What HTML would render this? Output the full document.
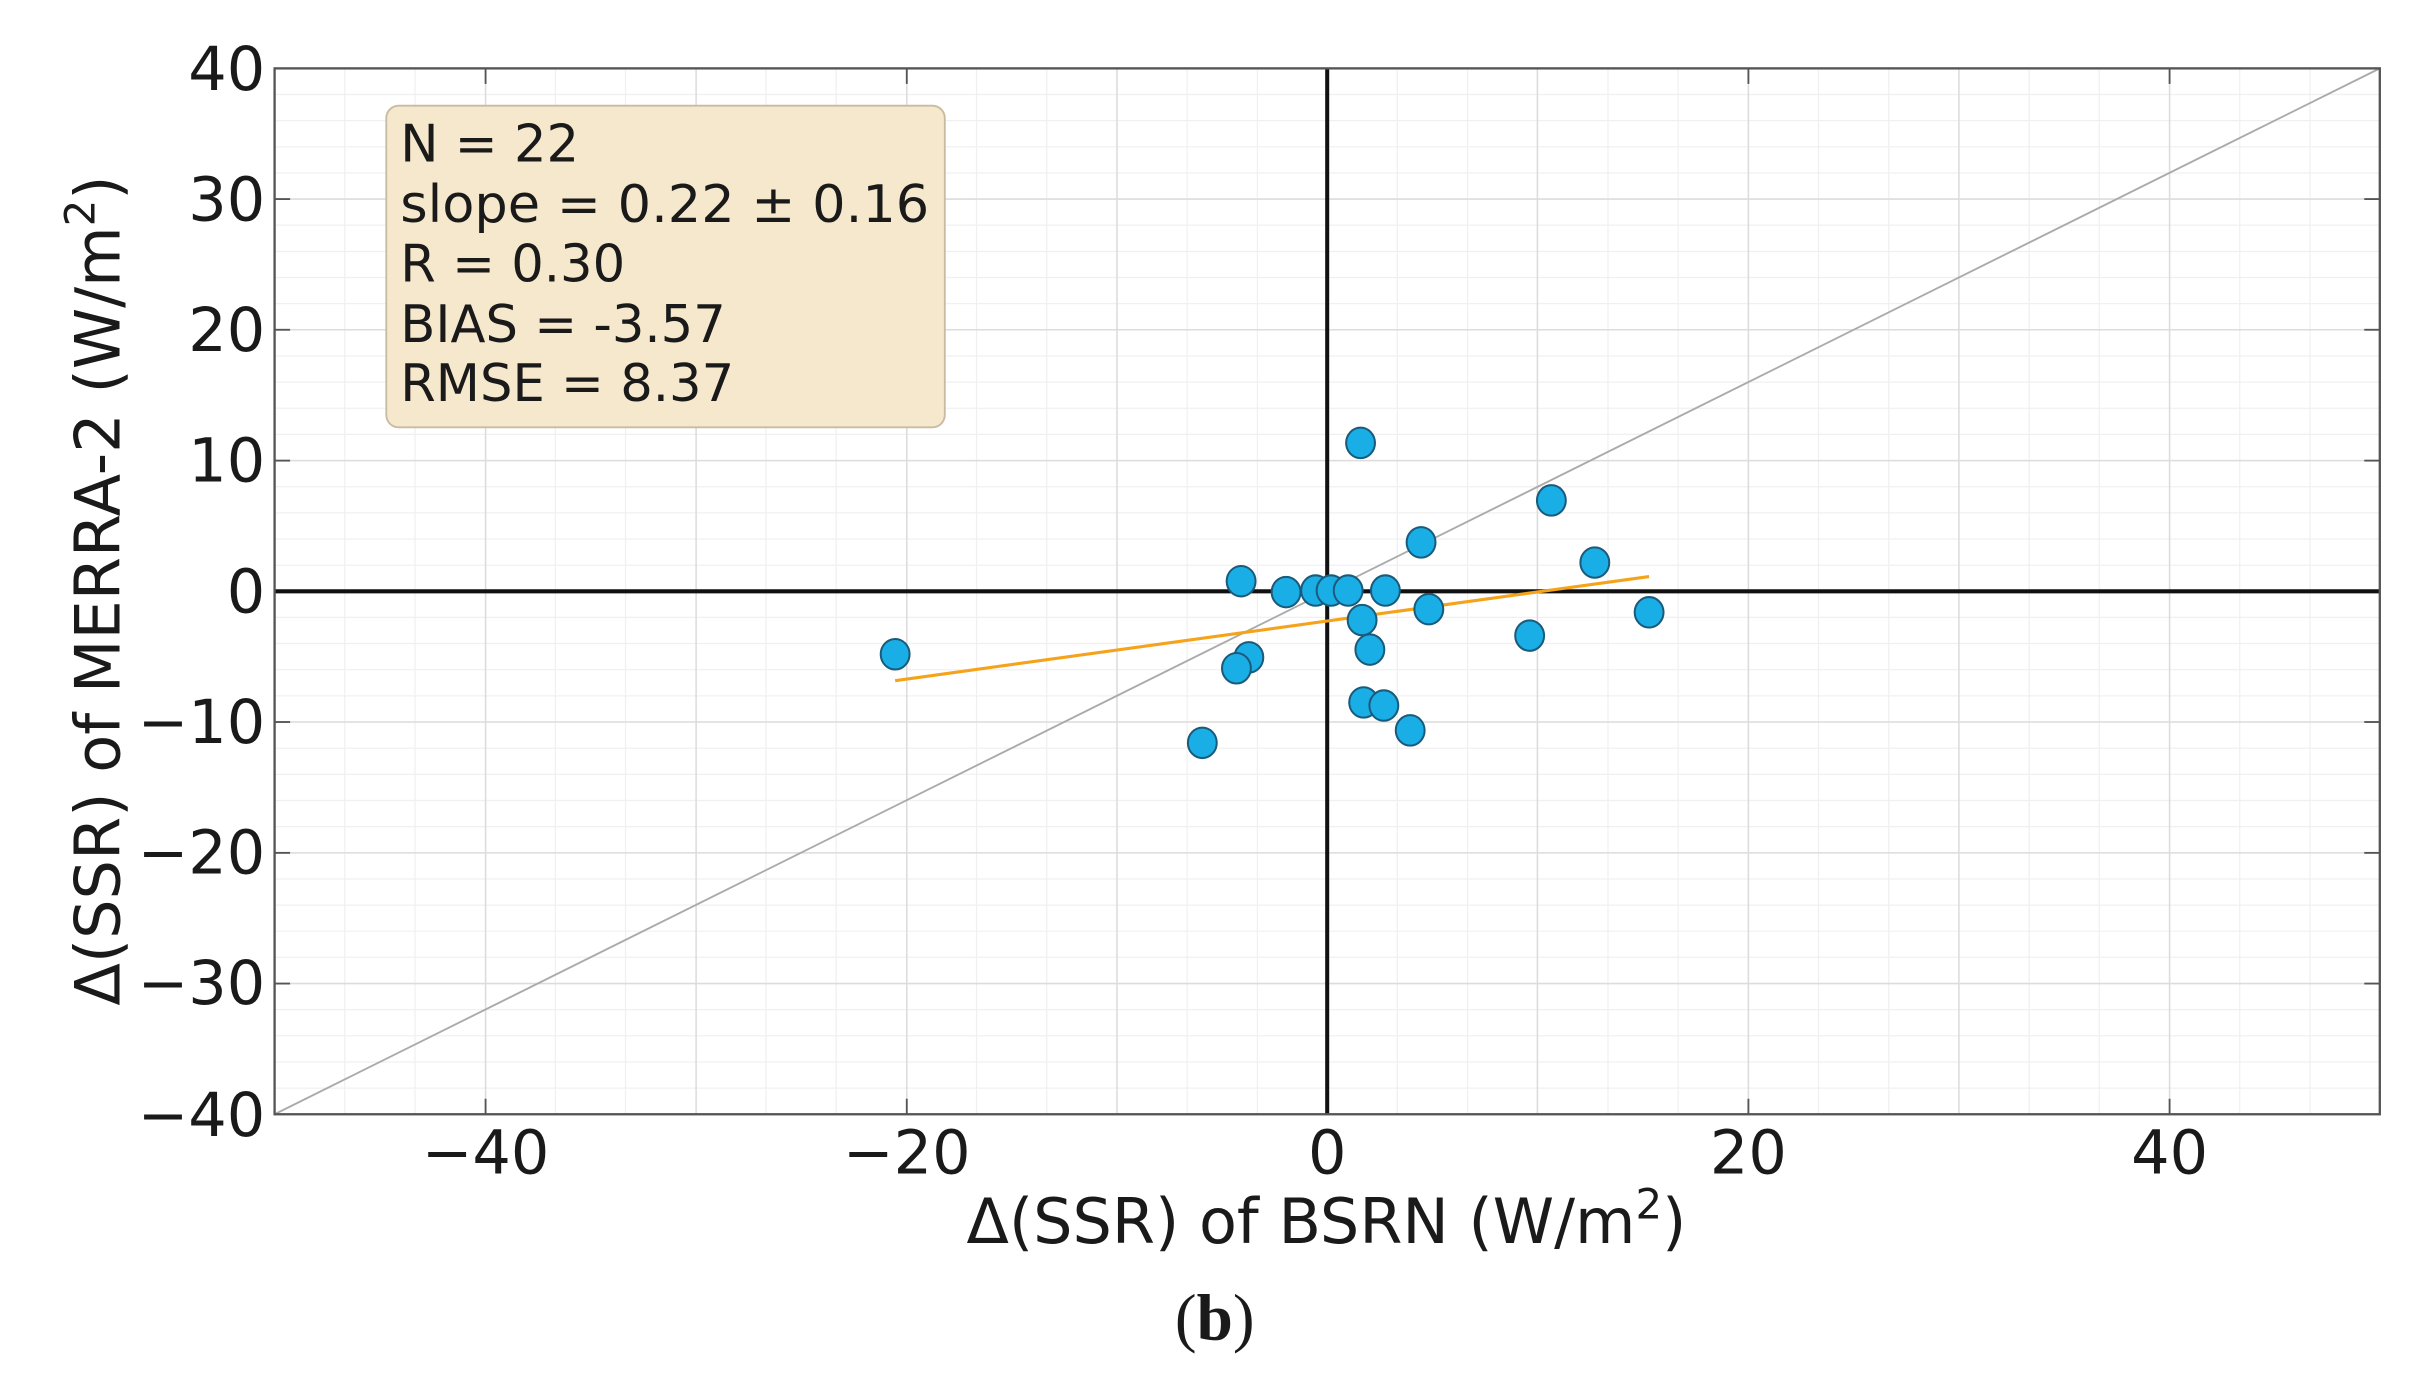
<!DOCTYPE html>
<html><head><meta charset="utf-8"><style>
html,body{margin:0;padding:0;background:#fff;}
svg{display:block;}
text{font-family:"DejaVu Sans","Liberation Sans",sans-serif;fill:#1a1a1a;}
</style></head><body>
<svg width="2431" height="1380" viewBox="0 0 1567 888" preserveAspectRatio="none" xmlns="http://www.w3.org/2000/svg">
<rect width="1567" height="888" fill="#fff"/>
<g stroke="#f0f0f0" stroke-width="0.8">
<line x1="222.2" y1="44" x2="222.2" y2="717"/><line x1="267.5" y1="44" x2="267.5" y2="717"/>
<line x1="358" y1="44" x2="358" y2="717"/><line x1="403.2" y1="44" x2="403.2" y2="717"/>
<line x1="493.7" y1="44" x2="493.7" y2="717"/><line x1="539" y1="44" x2="539" y2="717"/>
<line x1="629.5" y1="44" x2="629.5" y2="717"/><line x1="674.7" y1="44" x2="674.7" y2="717"/>
<line x1="765.2" y1="44" x2="765.2" y2="717"/><line x1="810.5" y1="44" x2="810.5" y2="717"/>
<line x1="900.7" y1="44" x2="900.7" y2="717"/><line x1="946" y1="44" x2="946" y2="717"/>
<line x1="1036.5" y1="44" x2="1036.5" y2="717"/><line x1="1081.7" y1="44" x2="1081.7" y2="717"/>
<line x1="1172.2" y1="44" x2="1172.2" y2="717"/><line x1="1217.5" y1="44" x2="1217.5" y2="717"/>
<line x1="1308" y1="44" x2="1308" y2="717"/><line x1="1353.2" y1="44" x2="1353.2" y2="717"/>
<line x1="1443.7" y1="44" x2="1443.7" y2="717"/><line x1="1489" y1="44" x2="1489" y2="717"/>
</g>
<g stroke="#f0f0f0" stroke-width="0.8">
<line x1="177" y1="60.8" x2="1534" y2="60.8"/><line x1="177" y1="77.6" x2="1534" y2="77.6"/><line x1="177" y1="94.5" x2="1534" y2="94.5"/><line x1="177" y1="111.3" x2="1534" y2="111.3"/>
<line x1="177" y1="144.9" x2="1534" y2="144.9"/><line x1="177" y1="161.8" x2="1534" y2="161.8"/><line x1="177" y1="178.6" x2="1534" y2="178.6"/><line x1="177" y1="195.4" x2="1534" y2="195.4"/>
<line x1="177" y1="229.1" x2="1534" y2="229.1"/><line x1="177" y1="245.9" x2="1534" y2="245.9"/><line x1="177" y1="262.7" x2="1534" y2="262.7"/><line x1="177" y1="279.5" x2="1534" y2="279.5"/>
<line x1="177" y1="313.2" x2="1534" y2="313.2"/><line x1="177" y1="330" x2="1534" y2="330"/><line x1="177" y1="346.8" x2="1534" y2="346.8"/><line x1="177" y1="363.7" x2="1534" y2="363.7"/>
<line x1="177" y1="397.3" x2="1534" y2="397.3"/><line x1="177" y1="414.1" x2="1534" y2="414.1"/><line x1="177" y1="431" x2="1534" y2="431"/><line x1="177" y1="447.8" x2="1534" y2="447.8"/>
<line x1="177" y1="481.5" x2="1534" y2="481.5"/><line x1="177" y1="498.3" x2="1534" y2="498.3"/><line x1="177" y1="515.1" x2="1534" y2="515.1"/><line x1="177" y1="531.9" x2="1534" y2="531.9"/>
<line x1="177" y1="565.6" x2="1534" y2="565.6"/><line x1="177" y1="582.4" x2="1534" y2="582.4"/><line x1="177" y1="599.2" x2="1534" y2="599.2"/><line x1="177" y1="616" x2="1534" y2="616"/>
<line x1="177" y1="649.7" x2="1534" y2="649.7"/><line x1="177" y1="666.5" x2="1534" y2="666.5"/><line x1="177" y1="683.4" x2="1534" y2="683.4"/><line x1="177" y1="700.2" x2="1534" y2="700.2"/>
</g>
<g stroke="#dcdcdc" stroke-width="1">
<line x1="313" y1="44" x2="313" y2="717"/><line x1="584.5" y1="44" x2="584.5" y2="717"/><line x1="1127" y1="44" x2="1127" y2="717"/><line x1="1398.5" y1="44" x2="1398.5" y2="717"/>
<line x1="448.7" y1="44" x2="448.7" y2="717"/><line x1="720" y1="44" x2="720" y2="717"/><line x1="991" y1="44" x2="991" y2="717"/><line x1="1262.7" y1="44" x2="1262.7" y2="717"/>
<line x1="177" y1="128.1" x2="1534" y2="128.1"/><line x1="177" y1="212.2" x2="1534" y2="212.2"/><line x1="177" y1="296.4" x2="1534" y2="296.4"/>
<line x1="177" y1="464.6" x2="1534" y2="464.6"/><line x1="177" y1="548.8" x2="1534" y2="548.8"/><line x1="177" y1="632.9" x2="1534" y2="632.9"/>
</g>
<line x1="855.5" y1="44" x2="855.5" y2="717" stroke="#111" stroke-width="2.6"/>
<line x1="177" y1="380.5" x2="1534" y2="380.5" stroke="#111" stroke-width="2.6"/>
<line x1="177" y1="717" x2="1534" y2="44" stroke="#aaa" stroke-width="1.2"/>
<rect x="177" y="44" width="1357" height="673" fill="none" stroke="#555" stroke-width="1.5"/>
<g stroke="#555" stroke-width="1.2">
<line x1="313" y1="717" x2="313" y2="707"/><line x1="584.5" y1="717" x2="584.5" y2="707"/><line x1="1127" y1="717" x2="1127" y2="707"/><line x1="1398.5" y1="717" x2="1398.5" y2="707"/>
<line x1="313" y1="44" x2="313" y2="54"/><line x1="584.5" y1="44" x2="584.5" y2="54"/><line x1="1127" y1="44" x2="1127" y2="54"/><line x1="1398.5" y1="44" x2="1398.5" y2="54"/>
<line x1="177" y1="128.1" x2="187" y2="128.1"/><line x1="177" y1="212.2" x2="187" y2="212.2"/><line x1="177" y1="296.4" x2="187" y2="296.4"/><line x1="177" y1="464.6" x2="187" y2="464.6"/><line x1="177" y1="548.8" x2="187" y2="548.8"/><line x1="177" y1="632.9" x2="187" y2="632.9"/>
<line x1="1534" y1="128.1" x2="1524" y2="128.1"/><line x1="1534" y1="212.2" x2="1524" y2="212.2"/><line x1="1534" y1="296.4" x2="1524" y2="296.4"/><line x1="1534" y1="464.6" x2="1524" y2="464.6"/><line x1="1534" y1="548.8" x2="1524" y2="548.8"/><line x1="1534" y1="632.9" x2="1524" y2="632.9"/>
</g>
<line x1="577" y1="438" x2="1063" y2="371" stroke="#f5a31a" stroke-width="2"/>
<g fill="#1aaee6" stroke="#1a5a7a" stroke-width="1.3">
<ellipse cx="577" cy="421" rx="9.3" ry="9.8"/><ellipse cx="775" cy="478" rx="9.3" ry="9.8"/>
<ellipse cx="805" cy="423" rx="9.3" ry="9.8"/><ellipse cx="797" cy="430" rx="9.3" ry="9.8"/>
<ellipse cx="800" cy="374" rx="9.3" ry="9.8"/><ellipse cx="829" cy="381" rx="9.3" ry="9.8"/>
<ellipse cx="848" cy="380" rx="9.3" ry="9.8"/><ellipse cx="858" cy="380" rx="9.3" ry="9.8"/>
<ellipse cx="869" cy="380" rx="9.3" ry="9.8"/><ellipse cx="893" cy="380" rx="9.3" ry="9.8"/>
<ellipse cx="878" cy="399" rx="9.3" ry="9.8"/><ellipse cx="883" cy="418" rx="9.3" ry="9.8"/>
<ellipse cx="877" cy="285" rx="9.3" ry="9.8"/><ellipse cx="879" cy="452" rx="9.3" ry="9.8"/>
<ellipse cx="892" cy="454" rx="9.3" ry="9.8"/><ellipse cx="909" cy="470" rx="9.3" ry="9.8"/>
<ellipse cx="916" cy="349" rx="9.3" ry="9.8"/><ellipse cx="921" cy="392" rx="9.3" ry="9.8"/>
<ellipse cx="986" cy="409" rx="9.3" ry="9.8"/><ellipse cx="1000" cy="322" rx="9.3" ry="9.8"/>
<ellipse cx="1028" cy="362" rx="9.3" ry="9.8"/><ellipse cx="1063" cy="394" rx="9.3" ry="9.8"/>
</g>
<rect x="249" y="68" width="360" height="207" rx="8" fill="#f6e8cc" stroke="#c9bba0" stroke-width="1.2"/>
<g font-size="33">
<text x="258" y="104">N = 22</text>
<text x="258" y="143" textLength="341" lengthAdjust="spacingAndGlyphs">slope = 0.22 ± 0.16</text>
<text x="258" y="181">R = 0.30</text>
<text x="258" y="220">BIAS = -3.57</text>
<text x="258" y="258">RMSE = 8.37</text>
</g>
<g font-size="39" text-anchor="end">
<text x="171" y="58">40</text><text x="171" y="142">30</text><text x="171" y="226">20</text><text x="171" y="310">10</text><text x="171" y="394">0</text>
<text x="171" y="478">−10</text><text x="171" y="562">−20</text><text x="171" y="646">−30</text><text x="171" y="731">−40</text>
</g>
<g font-size="39" text-anchor="middle">
<text x="313" y="755">−40</text><text x="584.5" y="755">−20</text><text x="855.5" y="755">0</text><text x="1127" y="755">20</text><text x="1398.5" y="755">40</text>
</g>
<text x="855" y="800" font-size="40" text-anchor="middle">Δ(SSR) of BSRN (W/m<tspan font-size="27" dy="-16">2</tspan><tspan dy="16">)</tspan></text>
<text transform="translate(77,380) rotate(-90)" font-size="40" text-anchor="middle">Δ(SSR) of MERRA-2 (W/m<tspan font-size="27" dy="-16">2</tspan><tspan dy="16">)</tspan></text>
<text x="783" y="862" font-size="42" text-anchor="middle" style="font-family:'Liberation Serif',serif">(<tspan font-weight="bold">b</tspan>)</text>
</svg>
</body></html>
